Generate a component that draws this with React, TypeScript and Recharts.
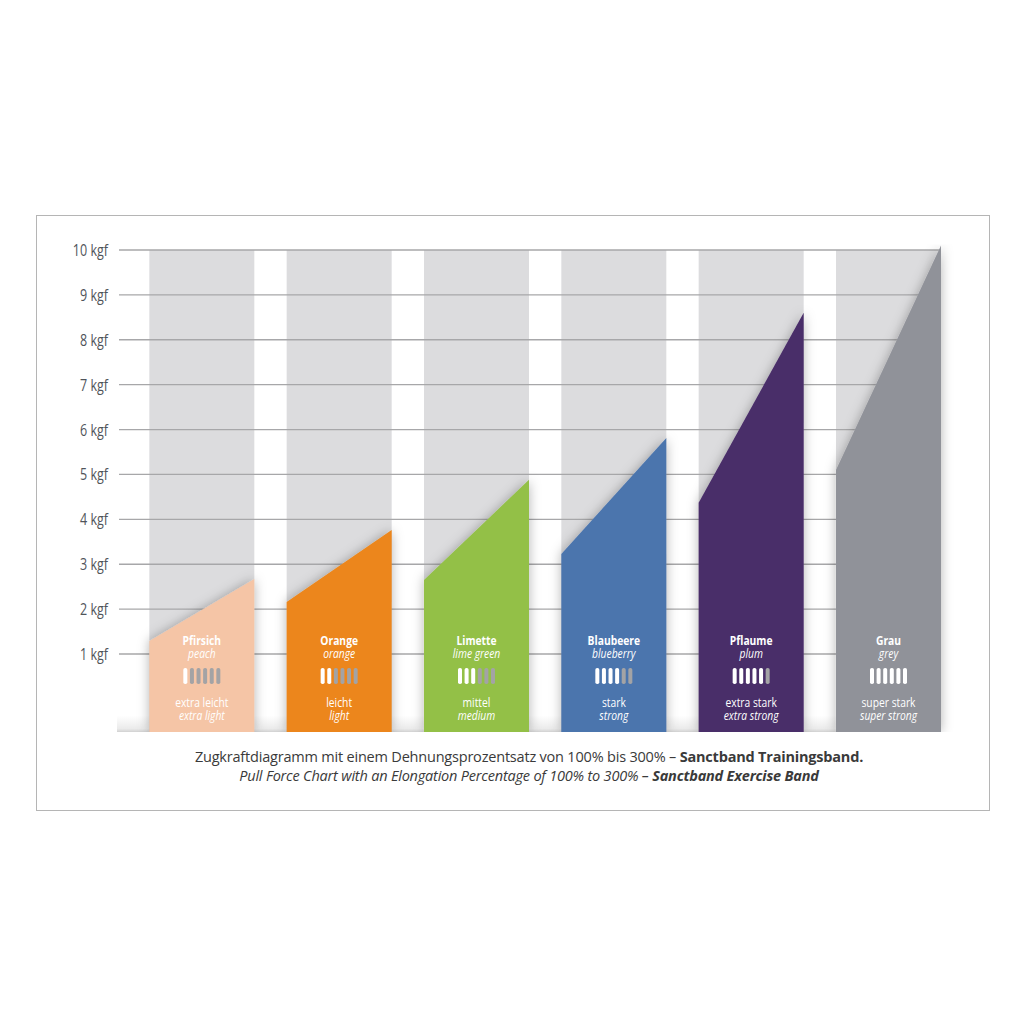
import React from 'react';
import { BarChart, Bar, XAxis, YAxis, CartesianGrid, ReferenceArea } from 'recharts';

const bandsDe = ['Pfirsich', 'Orange', 'Limette', 'Blaubeere', 'Pflaume', 'Grau'];
const bandsEn = ['peach', 'orange', 'lime green', 'blueberry', 'plum', 'grey'];
const strengthDe = ['extra leicht', 'leicht', 'mittel', 'stark', 'extra stark', 'super stark'];
const strengthEn = ['extra light', 'light', 'medium', 'strong', 'extra strong', 'super strong'];
const levels = [1, 2, 3, 4, 5, 6];
const forceAt100 = [1.29, 2.16, 2.65, 3.23, 4.37, 5.1];
const forceAt300 = [2.67, 3.76, 4.88, 5.81, 8.6, 10.1];
const yTicks = [1, 2, 3, 4, 5, 6, 7, 8, 9, 10];
const columnTop = 10;

const palette = ['#f5c5a6', '#ec861a', '#93c047', '#4c75ad', '#4a2d69', '#909299'];

const Y_MIN = -0.737;
const Y_MAX = 10.12;
const FONT = '"Open Sans", "Noto Sans", sans-serif';
const SQUEEZE = 0.78;

const data = bandsDe.map((de, i) => ({
  de,
  en: bandsEn[i],
  sDe: strengthDe[i],
  sEn: strengthEn[i],
  level: levels[i],
  start: forceAt100[i],
  end: forceAt300[i],
  top: columnTop,
}));

const columnKey = (d: any) => [Y_MIN, d.top];
const bandKey = (d: any) => [Y_MIN, d.end];

const MARGIN = { top: 244.6, right: 83, bottom: 292, left: 57 };
const W = 1024;
const H = 1024;

const GrayColumn = (props: any) => {
  const { x, y, width, height } = props;
  return <rect x={x} y={y} width={width} height={height} fill="#dcdcde" />;
};

const NarrowText = ({ cx, y, children, ...rest }: any) => (
  <text
    transform={`translate(${cx},${y}) scale(${SQUEEZE},1)`}
    x={0}
    y={0}
    textAnchor="middle"
    fill="#fff"
    fontFamily={FONT}
    fontSize={13.2}
    {...rest}
  >
    {children}
  </text>
);

const Trapezoid = (props: any) => {
  const { x, y, width, height, payload, index } = props;
  const base = y + height;
  const ppu = height / (payload.end - Y_MIN);
  const yStart = base - (payload.start - Y_MIN) * ppu;
  const cx = x + width / 2;
  const fill = palette[index];
  const step = 6.6;
  const pills = [0, 1, 2, 3, 4, 5].map((k) => (
    <rect
      key={k}
      x={cx - 2.5 * step - 2 + k * step}
      y={base - 64}
      width={4}
      height={16}
      rx={1.8}
      fill={k < payload.level ? '#ffffff' : '#a3a3a5'}
    />
  ));
  return (
    <g>
      <defs>
        <filter id={`shadow-${index}`} x="-40%" y="-40%" width="180%" height="180%">
          <feDropShadow dx="0" dy="0" stdDeviation="6" floodColor="#000" floodOpacity="0.3" />
        </filter>
        {index === 0 && (
          <linearGradient id="bottomShade" x1="0" y1="0" x2="0" y2="1">
            <stop offset="0" stopColor="#000" stopOpacity="0" />
            <stop offset="0.8" stopColor="#000" stopOpacity="0.08" />
            <stop offset="1" stopColor="#000" stopOpacity="0.18" />
          </linearGradient>
        )}
      </defs>
      <path
        d={`M${x},${base} L${x},${yStart} L${x + width},${y} L${x + width},${base} Z`}
        fill={fill}
        filter={`url(#shadow-${index})`}
      />
      <NarrowText cx={cx} y={base - 87.5} fontWeight="bold">
        {payload.de}
      </NarrowText>
      <NarrowText cx={cx} y={base - 74} fontStyle="italic">
        {payload.en}
      </NarrowText>
      {pills}
      <NarrowText cx={cx} y={base - 25.5}>
        {payload.sDe}
      </NarrowText>
      <NarrowText cx={cx} y={base - 12}>
        <tspan fontStyle="italic">{payload.sEn}</tspan>
      </NarrowText>
    </g>
  );
};

const GridLine = (props: any) => {
  const { x1, x2, y1, y2 } = props;
  return <line x1={x1 + 2} x2={x2 - 1} y1={y1} y2={y2} stroke="#a7a7a9" strokeWidth={1.3} />;
};

const YTick = (props: any) => {
  const { x, y, payload } = props;
  return (
    <text
      transform={`translate(${x},${y}) scale(0.76,1)`}
      x={0}
      y={0}
      dy="0.36em"
      textAnchor="end"
      fill="#50545a"
      fontFamily={FONT}
      fontSize={16.5}
    >
      {`${payload.value} kgf`}
    </text>
  );
};

export default function App() {
  const abs: React.CSSProperties = { position: 'absolute', left: 0, top: 0 };
  return (
    <div style={{ position: 'absolute', left: 0, top: 0, width: W, height: H, background: '#fff' }}>
      <div
        style={{
          position: 'absolute',
          left: 36,
          top: 215,
          width: 954,
          height: 596,
          border: '1px solid #b5b5b5',
          boxSizing: 'border-box',
        }}
      />
      <div style={abs}>
        <BarChart width={W} height={H} data={data} margin={MARGIN} barGap={0} barCategoryGap={0}>
          <XAxis dataKey="de" hide />
          <YAxis
            type="number"
            domain={[Y_MIN, Y_MAX]}
            ticks={yTicks}
            width={60}
            axisLine={false}
            tickLine={false}
            tick={false}
            allowDataOverflow
          />
          <Bar dataKey="start" barSize={32.33} fill="transparent" isAnimationActive={false} />
          <Bar dataKey={columnKey} barSize={105} shape={GrayColumn} isAnimationActive={false} />
        </BarChart>
      </div>
      <div style={abs}>
        <BarChart width={W} height={H} data={data} margin={MARGIN} barGap={0} barCategoryGap={0}>
          <CartesianGrid vertical={false} horizontal={GridLine} horizontalValues={yTicks} />
          <XAxis dataKey="de" hide />
          <YAxis
            type="number"
            domain={[Y_MIN, Y_MAX]}
            ticks={yTicks}
            width={60}
            axisLine={false}
            tickLine={false}
            tickMargin={3}
            tick={YTick}
            allowDataOverflow
          />
          <Bar dataKey="start" barSize={32.33} fill="transparent" isAnimationActive={false} />
          <Bar dataKey={bandKey} barSize={105} shape={Trapezoid} isAnimationActive={false} />
          <ReferenceArea y1={Y_MIN} y2={-0.37} fill="url(#bottomShade)" fillOpacity={1} stroke="none" />
        </BarChart>
      </div>
      <div
        style={{
          position: 'absolute',
          left: 117,
          top: 747,
          width: 824,
          textAlign: 'center',
          fontFamily: '"Open Sans", sans-serif',
          fontSize: 14.5,
          lineHeight: '19px',
          color: '#3a3a3a',
          letterSpacing: '-0.2px',
        }}
      >
        <div>
          Zugkraftdiagramm mit einem Dehnungsprozentsatz von 100% bis 300% – <b>Sanctband Trainingsband.</b>
        </div>
        <div style={{ fontStyle: 'italic' }}>
          Pull Force Chart with an Elongation Percentage of 100% to 300% – <b>Sanctband Exercise Band</b>
        </div>
      </div>
    </div>
  );
}
